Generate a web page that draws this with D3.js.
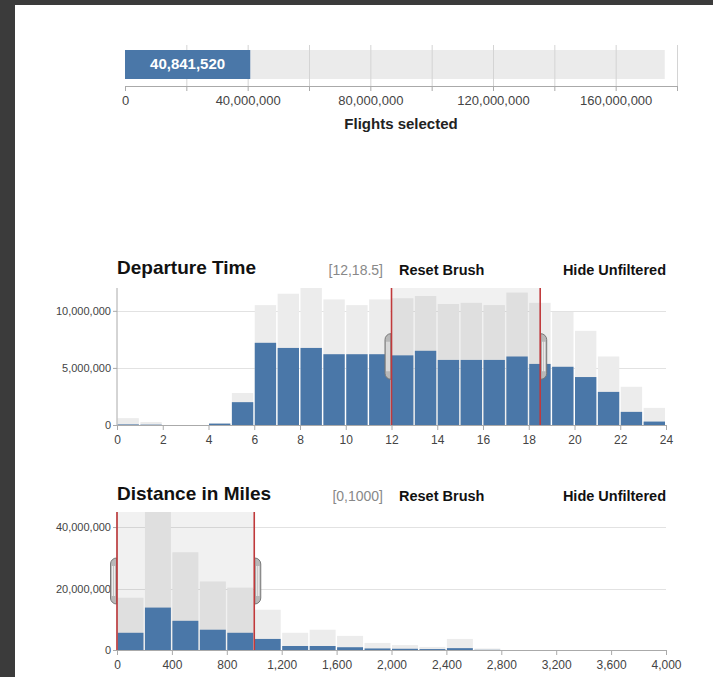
<!DOCTYPE html>
<html><head><meta charset="utf-8">
<script src="https://cdn.jsdelivr.net/npm/d3@7"></script>
<style>
html,body{margin:0;padding:0;background:#fff;}
svg{display:block;font-family:"Liberation Sans",Arial,Helvetica,sans-serif;}
</style></head>
<body>
<svg id="c" width="713" height="677"></svg>
<script>
// ---------- data ----------
const flightsTotal = 176000000;
const flightsSelected = 40841520;
const topTicks = [0, 20e6, 40e6, 60e6, 80e6, 100e6, 120e6, 140e6, 160e6, 180e6];

const depBins = [0,1,2,3,4,5,6,7,8,9,10,11,12,13,14,15,16,17,18,19,20,21,22,23];
const depTotal = [0.6,0.26,0,0,0.15,2.8,10.5,11.5,12.0,11.0,10.5,11.0,11.1,11.3,10.6,10.7,10.5,11.6,10.7,9.9,8.25,6.0,3.35,1.5].map(v=>v*1e6);
const depSelected = [0.05,0.03,0,0,0.12,2.0,7.2,6.75,6.75,6.2,6.2,6.2,6.1,6.5,5.7,5.7,5.7,6.0,5.35,5.1,4.2,2.9,1.15,0.3].map(v=>v*1e6);
const depBrush = [12, 18.5];
const depXTicks = [0,2,4,6,8,10,12,14,16,18,20,22,24];
const depYTicks = [0, 5e6, 10e6];

const distBins = [0,200,400,600,800,1000,1200,1400,1600,1800,2000,2200,2400,2600];
const distTotal = [17.0,44.9,31.8,22.3,20.3,13.1,5.6,6.6,4.6,2.3,1.6,1.0,3.6,0.5].map(v=>v*1e6);
const distSelected = [5.6,13.8,9.5,6.6,5.6,3.6,1.3,1.3,0.9,0.5,0.4,0.3,0.6,0.05].map(v=>v*1e6);
const distBrush = [0, 1000];
const distXTicks = [0,400,800,1200,1600,2000,2400,2800,3200,3600,4000];
const distYTicks = [0, 20e6, 40e6];

// ---------- drawing ----------
const svg = d3.select("#c");
const fmt = d3.format(",");
const BLUE = "#4a77a8", GREY = "#ececec";

// frame
svg.append("rect").attr("x",0).attr("y",0).attr("width",713).attr("height",5).attr("fill","#3b3b3b");
svg.append("rect").attr("x",0).attr("y",0).attr("width",15).attr("height",677).attr("fill","#3b3b3b");

// ---- top bar ----
{
  const x = d3.scaleLinear().domain([0,180e6]).range([125,677]);
  const g = svg.append("g");
  g.append("rect").attr("x",x(0)).attr("y",50).attr("width",x(flightsTotal)-x(0)).attr("height",29).attr("fill","#ebebeb");
  g.selectAll("line.grid").data(topTicks.slice(1)).join("line")
    .attr("x1",d=>x(d)+0.5).attr("x2",d=>x(d)+0.5).attr("y1",45).attr("y2",86)
    .attr("stroke","#d4d4d4");
  g.append("rect").attr("x",x(0)).attr("y",50).attr("width",x(flightsSelected)-x(0)).attr("height",29).attr("fill",BLUE);
  g.append("text").attr("x",(x(0)+x(flightsSelected))/2).attr("y",69).attr("text-anchor","middle")
    .attr("fill","#fff").attr("font-size",15).attr("font-weight","bold").text(fmt(flightsSelected));
  const ax = g.append("g").attr("transform","translate(0,86)")
    .call(d3.axisBottom(x).tickValues(topTicks).tickSize(5).tickPadding(5)
      .tickFormat(d => d % 40e6 === 0 ? fmt(d) : ""));
  ax.select(".domain").attr("stroke","#aaa");
  ax.selectAll(".tick line").attr("stroke","#aaa");
  ax.selectAll("text").attr("font-size",13).attr("fill","#444").attr("font-family",null);
  g.append("text").attr("x",(x(0)+x(180e6))/2).attr("y",129).attr("text-anchor","middle")
    .attr("font-size",15).attr("font-weight","bold").attr("fill","#222").text("Flights selected");
}

// ---- histogram helper ----
function hist(opt){
  const {title, range, bins, binW, total, selected, brush, xTicks, yTicks, domainX, top, bottom, titleY} = opt;
  const x = d3.scaleLinear().domain(domainX).range([117,666]);
  const y = d3.scaleLinear().domain([0, d3.max(total)]).range([bottom, top]);
  const g = svg.append("g");
  // header
  g.append("text").attr("x",117).attr("y",titleY).attr("font-size",19).attr("font-weight","bold").attr("fill","#111").text(title);
  g.append("text").attr("x",383).attr("y",titleY+1).attr("text-anchor","end").attr("font-size",14).attr("fill","#888").text(range);
  g.append("text").attr("x",399).attr("y",titleY+1).attr("font-size",14.5).attr("font-weight","bold").attr("fill","#111").text("Reset Brush");
  g.append("text").attr("x",666).attr("y",titleY+1).attr("text-anchor","end").attr("font-size",14.5).attr("font-weight","bold").attr("fill","#111").text("Hide Unfiltered");
  // grid
  g.selectAll("line.grid").data(yTicks.slice(1)).join("line")
    .attr("x1",117).attr("x2",666).attr("y1",d=>Math.round(y(d))+0.5).attr("y2",d=>Math.round(y(d))+0.5)
    .attr("stroke","#e2e2e2");
  // total bars
  g.selectAll("rect.tot").data(bins).join("rect")
    .attr("x",(d)=>x(d)+0.5).attr("width",x(binW)-x(0)-1.5)
    .attr("y",(d,i)=>y(total[i])).attr("height",(d,i)=>bottom-y(total[i])).attr("fill",GREY);
  // brush extent
  g.append("rect").attr("x",x(brush[0])).attr("width",x(brush[1])-x(brush[0]))
    .attr("y",top).attr("height",bottom-top).attr("fill","#000").attr("fill-opacity",0.055);
  // selected bars
  g.selectAll("rect.sel").data(bins).join("rect")
    .attr("x",(d)=>x(d)+0.5).attr("width",x(binW)-x(0)-1.5)
    .attr("y",(d,i)=>y(selected[i])).attr("height",(d,i)=>bottom-y(selected[i])).attr("fill",BLUE);
  // axes
  const ax = g.append("g").attr("transform",`translate(0,${bottom})`)
    .call(d3.axisBottom(x).tickValues(xTicks).tickSize(5).tickPadding(5).tickFormat(fmt));
  ax.select(".domain").attr("stroke","#aaa");
  ax.selectAll(".tick line").attr("stroke","#aaa");
  ax.selectAll("text").attr("font-size",12).attr("fill","#444").attr("font-family",null);
  const ay = g.append("g").attr("transform","translate(117,0)")
    .call(d3.axisLeft(y).tickValues(yTicks).tickSize(4).tickPadding(2).tickFormat(fmt));
  ay.select(".domain").attr("stroke","#aaa").attr("d",`M-0,${top}V${bottom}`);
  ay.selectAll(".tick line").attr("stroke","#aaa");
  ay.selectAll("text").attr("font-size",11).attr("fill","#444").attr("font-family",null);
  // brush edges + handles
  const h3 = (bottom-top)/3;
  brush.forEach((b,k)=>{
    const bx = x(b);
    const e = k===1 ? 1 : 0, s = e ? 1 : -1;
    const p = `M${0.5*s},${h3}A6,6 0 0 ${e} ${6.5*s},${h3+6}V${2*h3-6}A6,6 0 0 ${e} ${0.5*s},${2*h3}Z`;
    const hg = g.append("g").attr("transform",`translate(${bx},${top})`);
    hg.append("path").attr("d",p).attr("fill","#b8b8b8").attr("stroke","#777").attr("stroke-width",1);
    hg.append("path").attr("d",`M${2.5*s},${h3+8}V${2*h3-8}M${4.5*s},${h3+8}V${2*h3-8}`).attr("stroke","#eee").attr("stroke-width",1.2);
    g.append("line").attr("x1",bx).attr("x2",bx).attr("y1",top).attr("y2",bottom)
      .attr("stroke","#c0393b").attr("stroke-width",1.6);
  });
}

hist({title:"Departure Time", range:"[12,18.5]", bins:depBins, binW:1, total:depTotal, selected:depSelected,
  brush:depBrush, xTicks:depXTicks, yTicks:depYTicks, domainX:[0,24], top:288, bottom:425, titleY:274});
hist({title:"Distance in Miles", range:"[0,1000]", bins:distBins, binW:200, total:distTotal, selected:distSelected,
  brush:distBrush, xTicks:distXTicks, yTicks:distYTicks, domainX:[0,4000], top:512, bottom:650, titleY:500});
</script>
</body></html>
